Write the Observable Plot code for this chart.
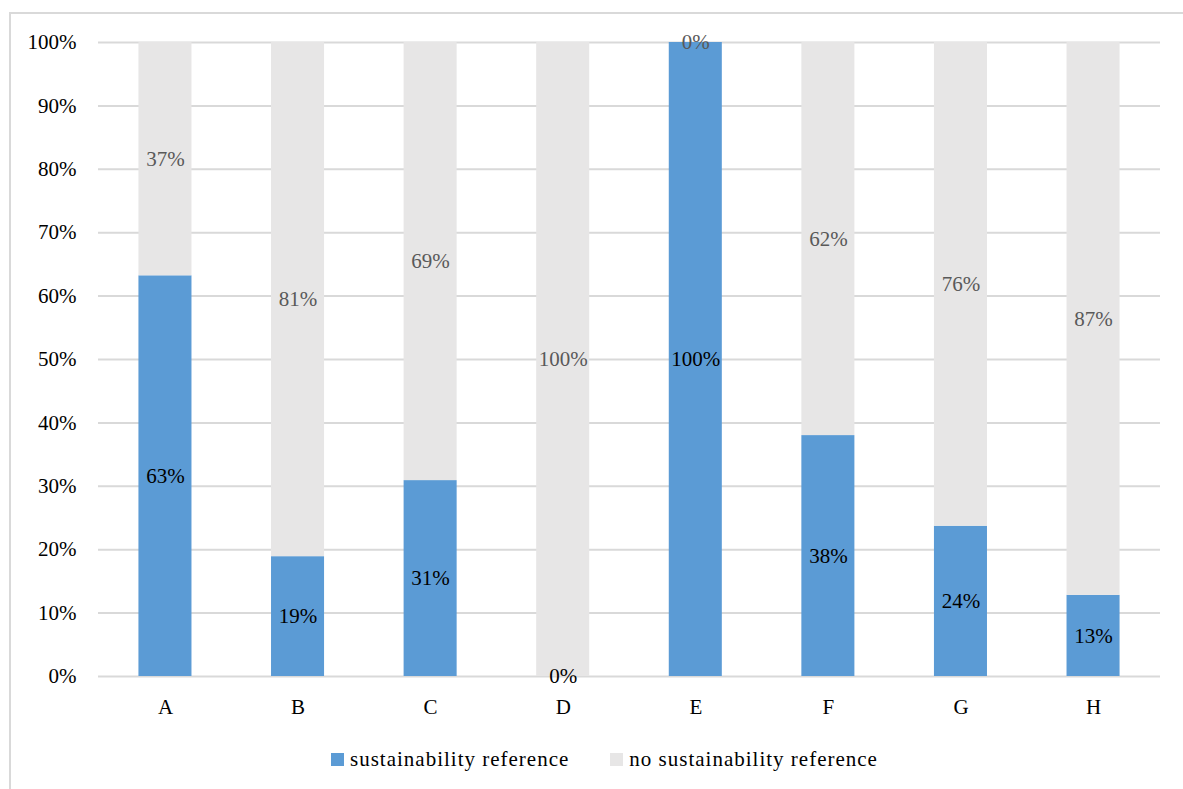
<!DOCTYPE html>
<html>
<head>
<meta charset="utf-8">
<script src="https://cdn.jsdelivr.net/npm/d3@7"></script>
<script src="https://cdn.jsdelivr.net/npm/@observablehq/plot@0.6"></script>
<style>
  html, body { margin: 0; padding: 0; background: #fff; overflow: hidden; }
  #frame { position: absolute; left: 9px; top: 12px; width: 1200px; height: 800px;
           border: 2px solid #d9d9d9; box-sizing: border-box; }
  #chart { position: absolute; left: 0; top: 0; }
  #legend { position: absolute; left: 320px; top: 733px; display: flex; align-items: center;
            font-family: "Liberation Serif", serif; font-size: 21px; letter-spacing: 1px; color: #000; }
  .item { display: flex; align-items: center; margin-right: 41px; }
  .sw { width: 13px; height: 13px; margin-right: 6px; }
</style>
</head>
<body>
<div id="frame">
  <div id="chart"></div>
  <div id="legend"></div>
</div>
<script>
const categories = ["A", "B", "C", "D", "E", "F", "G", "H"];
const sustainability = [63.2, 18.9, 30.9, 0, 100, 38.0, 23.7, 12.8];
const noSustainability = [36.8, 81.1, 69.1, 100, 0, 62.0, 76.3, 87.2];
const seriesNames = ["sustainability reference", "no sustainability reference"];
const seriesColors = ["#5B9BD5", "#E7E6E6"];
const labelColors = ["#000000", "#595959"];
const yTicks = [0, 10, 20, 30, 40, 50, 60, 70, 80, 90, 100];

const rows = [];
categories.forEach((c, i) => rows.push({cat: c, series: seriesNames[0], value: sustainability[i]}));
categories.forEach((c, i) => rows.push({cat: c, series: seriesNames[1], value: noSustainability[i]}));

const font = "Liberation Serif";
const plot = Plot.plot({
  width: 1172,
  height: 712,
  marginLeft: 87,
  marginRight: 23,
  marginTop: 28,
  marginBottom: 50,
  style: {fontFamily: font, fontSize: "21px", background: "transparent"},
  x: {domain: categories, paddingInner: 0.6, paddingOuter: 0.305, round: false, label: null},
  y: {domain: [0, 100], label: null},
  color: {domain: seriesNames, range: seriesColors},
  marks: [
    Plot.ruleY(yTicks, {stroke: "#d9d9d9", strokeWidth: 2}),
    Plot.barY(rows, Plot.stackY({x: "cat", y: "value", z: "series", fill: "series", order: null})),
    Plot.text(rows, Plot.stackY({
      x: "cat", y: "value", z: "series", order: null,
      text: d => Math.round(d.value) + "%",
      fill: d => labelColors[seriesNames.indexOf(d.series)],
      fontSize: 21
    })),
    Plot.axisY(yTicks, {tickSize: 0, tickPadding: 22, tickFormat: d => d + "%", fontSize: 21, fill: "#000"}),
    Plot.axisX({tickSize: 0, tickPadding: 23, fontSize: 21, fill: "#000"})
  ]
});
document.getElementById("chart").appendChild(plot);

const legend = document.getElementById("legend");
seriesNames.forEach((name, i) => {
  const item = document.createElement("div");
  item.className = "item";
  const sw = document.createElement("div");
  sw.className = "sw";
  sw.style.background = seriesColors[i];
  const t = document.createElement("span");
  t.textContent = name;
  item.appendChild(sw);
  item.appendChild(t);
  legend.appendChild(item);
});
</script>
</body>
</html>
